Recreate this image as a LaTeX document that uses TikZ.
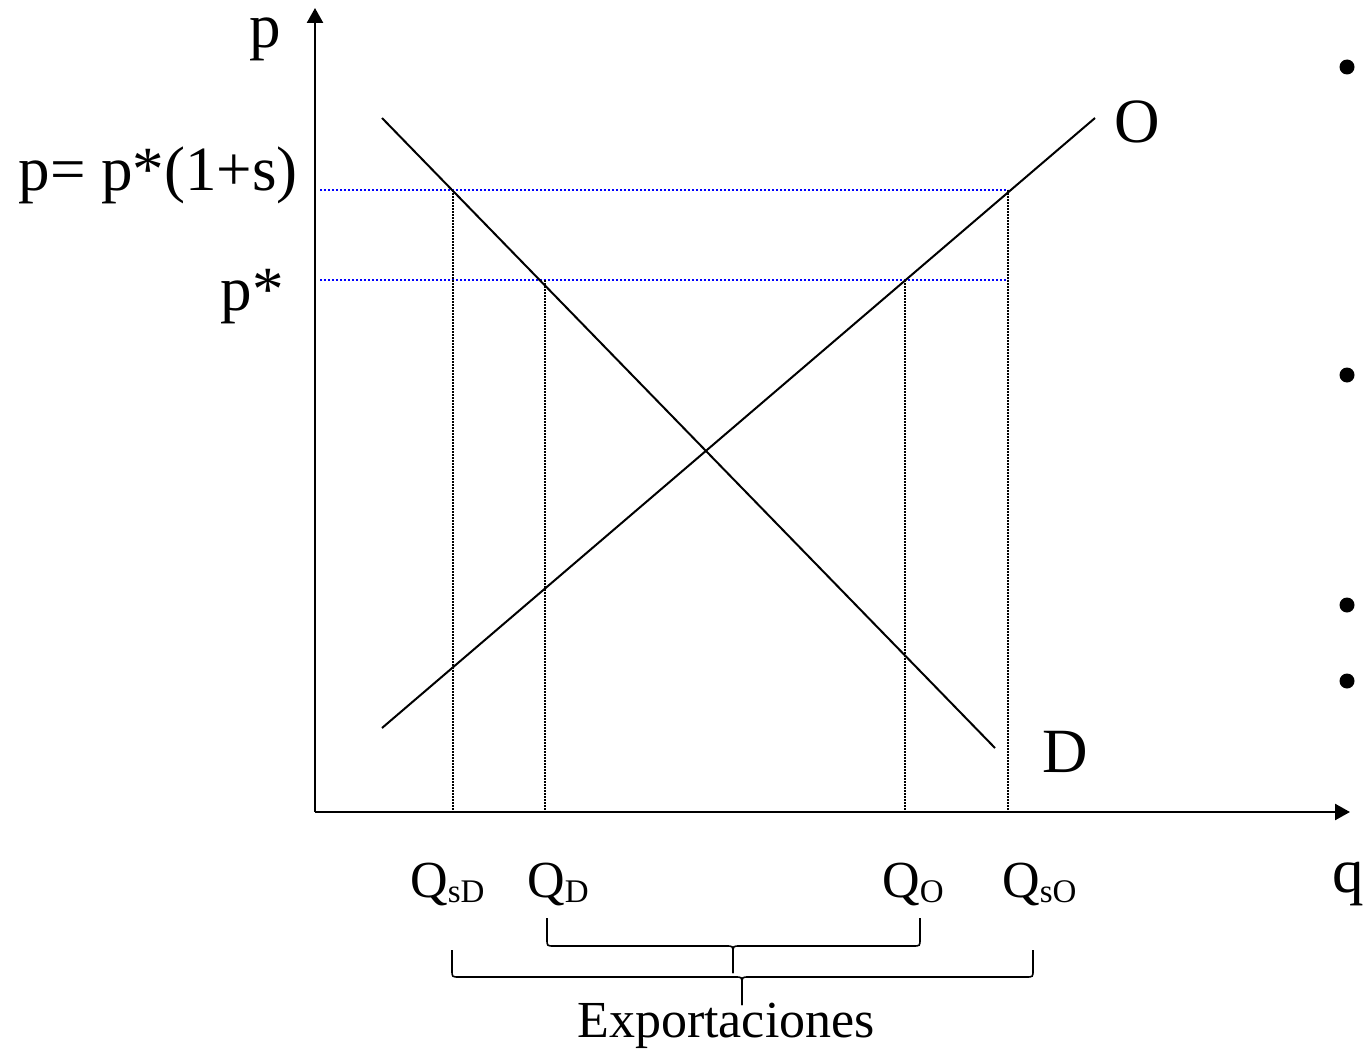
\documentclass[tikz,border=0pt]{standalone}
\usepackage{fontspec}
\setmainfont{Liberation Serif}
\usetikzlibrary{arrows.meta}
\newcommand{\bigtxt}{\fontsize{63}{70}\selectfont}
\newcommand{\smalltxt}{\fontsize{52}{60}\selectfont}
\newcommand{\qsub}[1]{\raisebox{-5pt}{\fontsize{33}{36}\selectfont #1}}
\tikzset{
  axis/.style={line width=2.5pt, -{Triangle[length=15pt,width=16pt]}},
  curve/.style={line width=2pt},
  guide/.style={line width=1.2pt, dash pattern=on 1.5pt off 1.5pt},
  priceline/.style={line width=1.5pt, blue, dash pattern=on 2pt off 2pt},
  bracestyle/.style={line width=1.6pt},
  biglabel/.style={inner sep=0pt, font=\bigtxt},
  smalllabel/.style={inner sep=0pt, font=\smalltxt},
  bulletdot/.style={fill=black, draw=none}
}
\begin{document}
\begin{tikzpicture}[x=1pt, y=-1pt]
\useasboundingbox (0,0) rectangle (1365,1049);
% coordinates
\coordinate (orig) at (315,812);
\coordinate (ytop) at (315,8);
\coordinate (xend) at (1350,812);
\coordinate (d1) at (382,118);
\coordinate (d2) at (995,748);
\coordinate (o1) at (382,728);
\coordinate (o2) at (1095,118);
\coordinate (ps0) at (320,190);
\coordinate (ps1) at (1008,190);
\coordinate (pa0) at (320,280);
\coordinate (pa1) at (1008,280);
\coordinate (vsD) at (453,190);
\coordinate (vsDb) at (453,812);
\coordinate (vD) at (545,280);
\coordinate (vDb) at (545,812);
\coordinate (vO) at (905,280);
\coordinate (vOb) at (905,812);
\coordinate (vsO) at (1008,190);
\coordinate (vsOb) at (1008,812);
% guides
\draw[priceline] (ps0) -- (ps1);
\draw[priceline] (pa0) -- (pa1);
\draw[guide] (vsD) -- (vsDb);
\draw[guide] (vD) -- (vDb);
\draw[guide] (vO) -- (vOb);
\draw[guide] (vsO) -- (vsOb);
% axes
\draw[axis] (orig) -- (ytop);
\draw[axis] (orig) -- (xend);
% curves
\draw[curve] (d1) -- (d2);
\draw[curve] (o1) -- (o2);
% labels
\node[biglabel, anchor=base] (lp) at (265,48) {p};
\node[biglabel, anchor=base east] (lps) at (298,190) {p= p*(1+s)};
\node[biglabel, anchor=base east] (lpa) at (284,310) {p*};
\node[biglabel, anchor=base] (lO) at (1137,142) {O};
\node[biglabel, anchor=base] (lD) at (1065,772) {D};
\node[biglabel, anchor=base east] (lq) at (1364,892) {q};
\node[smalllabel, anchor=base west] (lQsD) at (410,897) {Q\qsub{sD}};
\node[smalllabel, anchor=base west] (lQD) at (527,897) {Q\qsub{D}};
\node[smalllabel, anchor=base west] (lQO) at (882,897) {Q\qsub{O}};
\node[smalllabel, anchor=base west] (lQsO) at (1002,897) {Q\qsub{sO}};
\node[smalllabel, anchor=base] (lexp) at (726,1037) {Exportaciones};
% braces
\draw[bracestyle] (547,918) -- (547,939) .. controls (547,946) .. (554,946) -- (726,946) .. controls (733,946) .. (733,953) -- (733,973);
\draw[bracestyle] (733,973) -- (733,953) .. controls (733,946) .. (740,946) -- (913,946) .. controls (920,946) .. (920,939) -- (920,918);
\draw[bracestyle] (452,950) -- (452,970) .. controls (452,977) .. (459,977) -- (735,977) .. controls (742,977) .. (742,984) -- (742,1005);
\draw[bracestyle] (742,1005) -- (742,984) .. controls (742,977) .. (749,977) -- (1026,977) .. controls (1033,977) .. (1033,970) -- (1033,950);
% bullets
\fill[bulletdot] (1347,67) circle (7.5);
\fill[bulletdot] (1347,375) circle (7.5);
\fill[bulletdot] (1347,605) circle (7.5);
\fill[bulletdot] (1347,681) circle (7.5);
\end{tikzpicture}
\end{document}
